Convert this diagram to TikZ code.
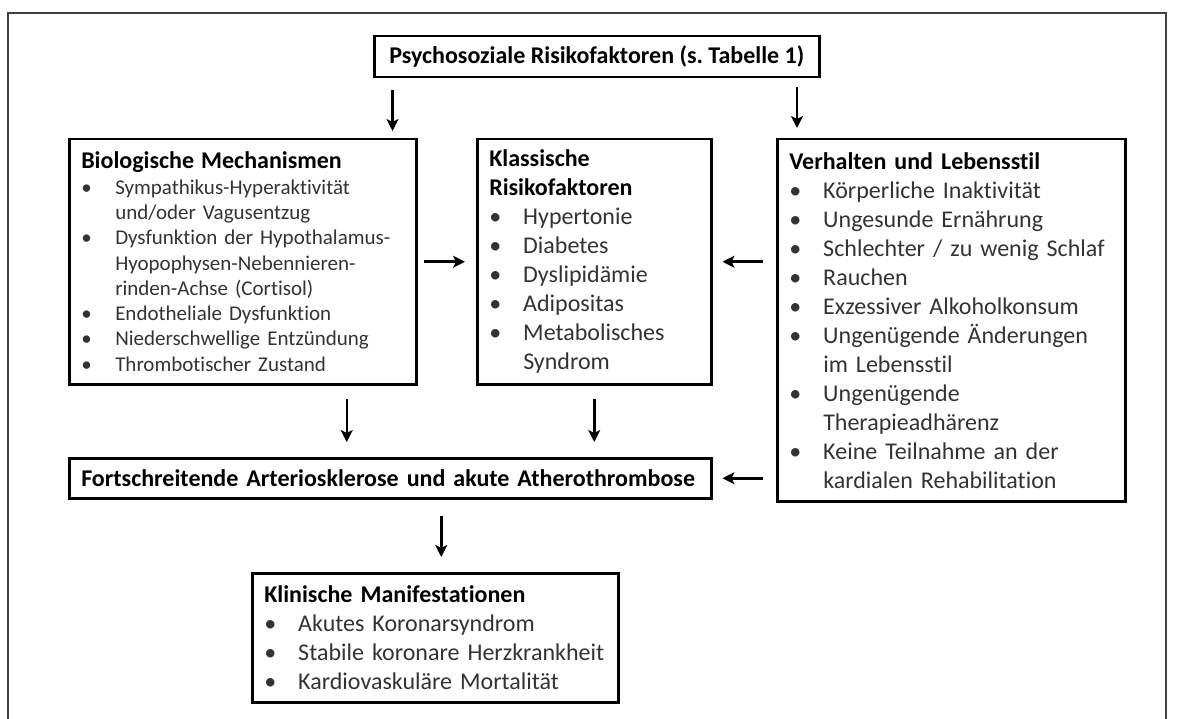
\documentclass[tikz,border=0pt]{standalone}
\usepackage{fontspec}
\setmainfont{Carlito}[Ligatures=NoCommon]
\usetikzlibrary{arrows.meta}
\setlength{\parindent}{0pt}
\frenchspacing
\newcommand{\bul}{\par\hangindent=34pt\hangafter=1\noindent\hbox to 34pt{\textbullet\hfil}}
\newcommand{\bodyfont}{\fontsize{24}{29}\selectfont}
\newcommand{\smallbody}{\fontsize{21}{25.3}\selectfont}
\newcommand{\ttl}[1]{{\bodyfont\bfseries\color{black}#1}}
\begin{document}
\begin{tikzpicture}[
	x=1pt, y=-1pt,
	box/.style={draw=black, line width=2.5pt, anchor=north west, inner xsep=12pt, inner ysep=3pt, align=left, text=black!80},
	arr/.style={line width=2.5pt, -{Stealth[length=12pt,width=12pt,inset=3pt]}},
]
\useasboundingbox (0,0) rectangle (1178,719);
\draw[line width=1.2pt, black!75] (8,719) -- (8,13) -- (1166,13) -- (1166,719);

\node[box, align=center, minimum width=445pt, minimum height=41pt, text=black, font=\bodyfont\bfseries] (psy) at (373,35) {Psychosoziale Risikofaktoren (s. Tabelle 1)};

\node[box, text width=323pt, minimum height=245pt, font=\smallbody] (bio) at (68,138) {\ttl{Biologische Mechanismen}
\bul Sympathikus-Hyperaktivität\newline und/oder Vagusentzug
\bul Dysfunktion der Hypothalamus-\newline Hyopophysen-Nebennieren-\newline rinden-Achse (Cortisol)
\bul Endotheliale Dysfunktion
\bul Niederschwellige Entzündung
\bul Thrombotischer Zustand\par};

\node[box, text width=210pt, minimum height=245pt, font=\bodyfont] (klass) at (476,138) {\ttl{Klassische\newline Risikofaktoren}
\bul Hypertonie
\bul Diabetes
\bul Dyslipidämie
\bul Adipositas
\bul Metabolisches\newline Syndrom\par};

\node[box, text width=324pt, minimum height=362pt, font=\bodyfont] (verh) at (776,138) {\ttl{Verhalten und Lebensstil}
\bul Körperliche Inaktivität
\bul Ungesunde Ernährung
\bul Schlechter / zu wenig Schlaf
\bul Rauchen
\bul Exzessiver Alkoholkonsum
\bul Ungenügende Änderungen\newline im Lebensstil
\bul Ungenügende\newline Therapieadhärenz
\bul Keine Teilnahme an der\newline kardialen Rehabilitation\par};

\node[box, text width=618pt, minimum height=40pt, text=black, font=\bodyfont\bfseries] (fort) at (68,457) {Fortschreitende Arteriosklerose und akute Atherothrombose};

\node[box, text width=342pt, minimum height=129pt, font=\bodyfont] (klin) at (251,572) {\ttl{Klinische Manifestationen}
\bul Akutes Koronarsyndrom
\bul Stabile koronare Herzkrankheit
\bul Kardiovaskuläre Mortalität\par};

\draw[arr, shorten <=12pt, shorten >=7pt] ([xshift=-25pt]bio.north east |- psy.south) -- ([xshift=-25pt]bio.north east);
\draw[arr, shorten <=9pt, shorten >=10pt] ([xshift=21pt]verh.north west |- psy.south) -- ([xshift=21pt]verh.north west);
\draw[arr, shorten <=6pt, shorten >=11pt] (bio.east) -- (klass.west);
\draw[arr, shorten <=13pt, shorten >=10pt] (verh.west |- klass.east) -- (klass.east);
\draw[arr, shorten <=13pt, shorten >=15pt] ([xshift=104pt]bio.south) -- ([xshift=104pt]bio.south |- fort.north);
\draw[arr, shorten <=13pt, shorten >=15pt] (klass.south) -- (klass.south |- fort.north);
\draw[arr, shorten <=13pt, shorten >=10pt] (verh.west |- fort.east) -- (fort.east);
\draw[arr, shorten <=16pt, shorten >=15pt] ([xshift=6pt]klin.north |- fort.south) -- ([xshift=6pt]klin.north);
\end{tikzpicture}
\end{document}
